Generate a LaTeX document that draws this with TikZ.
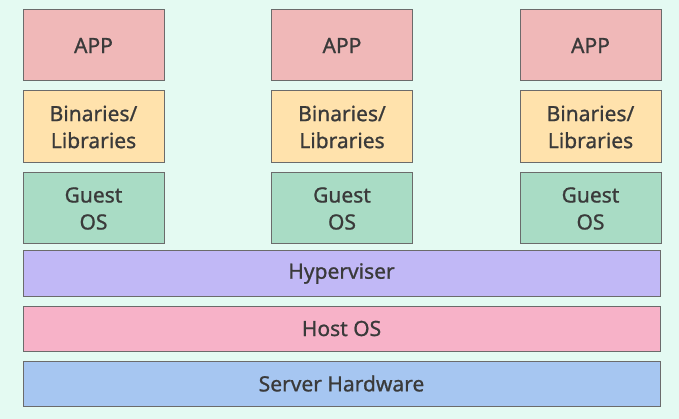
\documentclass[tikz,border=0pt]{standalone}
\usepackage{fontspec}
\setmainfont{Noto Sans}[FakeBold=0.9]
\usetikzlibrary{positioning}
\definecolor{bgmint}{HTML}{E4FAF2}
\definecolor{edgegrey}{HTML}{6B6B6B}
\definecolor{textgrey}{HTML}{3A3A3A}
\definecolor{appred}{HTML}{F0B8B8}
\definecolor{binyellow}{HTML}{FFE2AC}
\definecolor{osgreen}{HTML}{A9DCC5}
\definecolor{hyperpurple}{HTML}{C1B8F6}
\definecolor{hostpink}{HTML}{F7B2C8}
\definecolor{hwblue}{HTML}{A6C6F1}

\begin{document}
\begin{tikzpicture}[x=1pt, y=-1pt,
  layer/.style={draw=edgegrey, line width=1pt, text=textgrey, inner sep=0pt,
    align=center, font=\fontsize{21}{27}\selectfont\bfseries},
  colbox/.style={layer, minimum width=141pt, minimum height=71pt},
  barbox/.style={layer, minimum width=637pt, minimum height=45pt}]
\fill[bgmint] (0,0) rectangle (679,419);
\useasboundingbox (0,0) rectangle (679,419);

% one stack per virtual machine
\foreach \x/\n in {93.5/a, 342/b, 590.5/c} {
  \node[colbox, fill=appred] (app-\n) at (\x, 45.5) {APP};
  \node[colbox, fill=binyellow, minimum height=72pt, below=9pt of app-\n] (bin-\n) {Binaries/\\Libraries};
  \node[colbox, fill=osgreen, below=9pt of bin-\n] (os-\n) {Guest\\OS};
}

% shared layers
\node[barbox, fill=hyperpurple] (hyper) at (341.5, 273.5) {Hyperviser};
\node[barbox, fill=hostpink, below=9pt of hyper] (host) {Host OS};
\node[barbox, fill=hwblue, below=9pt of host] (hw) {Server Hardware};
\end{tikzpicture}
\end{document}
